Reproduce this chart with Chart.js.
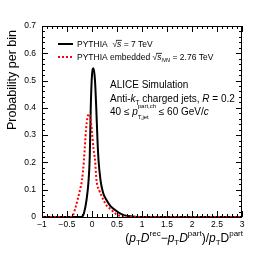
<!DOCTYPE html>
<html lang="en">
<head>
  <meta charset="UTF-8">
  <title>pT D resolution</title>
  <script src="https://cdn.jsdelivr.net/npm/chart.js"></script>
  <style>
    * { margin: 0; padding: 0; box-sizing: border-box; }
    body { background: #fff; width: 274px; height: 256px; overflow: hidden; }
    .wrap { position: relative; width: 274px; height: 256px; }
  </style>
</head>
<body>
  <div class="wrap"><canvas id="chart" width="274" height="256"></canvas></div>

  <script>
    // PYTHIA pp 7 TeV (black solid)
    const xBlack = [-1, -0.25, -0.2, -0.16, -0.11, -0.07, -0.045, -0.025, 0, 0.03, 0.06, 0.085, 0.11, 0.13, 0.17, 0.22, 0.29, 0.37, 0.46, 0.55, 0.65, 0.8, 1.0, 3];
    const yBlack = [0, 0, 0.001, 0.015, 0.062, 0.13, 0.22, 0.40, 0.52, 0.545, 0.50, 0.40, 0.28, 0.21, 0.135, 0.09, 0.062, 0.04, 0.026, 0.014, 0.006, 0.002, 0, 0];

    // PYTHIA embedded in Pb-Pb 2.76 TeV (red dotted)
    const xRed = [-1, -0.43, -0.38, -0.33, -0.29, -0.24, -0.2, -0.16, -0.12, -0.09, -0.06, -0.03, 0, 0.03, 0.06, 0.09, 0.15, 0.23, 0.3, 0.39, 0.47, 0.56, 0.7, 0.85, 3];
    const yRed = [0, 0, 0.006, 0.035, 0.062, 0.1, 0.135, 0.21, 0.32, 0.365, 0.377, 0.36, 0.31, 0.25, 0.21, 0.135, 0.095, 0.062, 0.04, 0.026, 0.012, 0.004, 0.001, 0, 0];

    const xTickValues = [-1, -0.5, 0, 0.5, 1, 1.5, 2, 2.5, 3];
    const yTickValues = [0, 0.1, 0.2, 0.3, 0.4, 0.5, 0.6, 0.7];

    const FONT = "'Liberation Sans', Arial, sans-serif";

    function fmt(v) {
      const r = Math.round(v * 100) / 100;
      return (r < 0 ? '\u2212' : '') + Math.abs(r).toString();
    }

    // draw a run of text pieces; piece: {t, i (italic), s (size), dy, sup, sub}
    function drawRich(ctx, x, y, pieces, align) {
      const font = (p) => (p.i ? 'italic ' : '') + p.s + 'px ' + FONT;
      let total = 0;
      const widths = pieces.map(p => {
        if (p.sup !== undefined) {
          ctx.font = p.s + 'px ' + FONT;
          const w = Math.max(ctx.measureText(p.sup).width, ctx.measureText(p.sub).width);
          total += w; return w;
        }
        ctx.font = font(p);
        const w = ctx.measureText(p.t).width + (p.pad || 0);
        total += w; return w;
      });
      let cx = align === 'right' ? x - total : x;
      ctx.textBaseline = 'alphabetic';
      ctx.textAlign = 'left';
      ctx.fillStyle = '#000';
      pieces.forEach((p, k) => {
        if (p.sup !== undefined) {
          ctx.font = p.s + 'px ' + FONT;
          ctx.fillText(p.sup, cx, y + p.supDy);
          ctx.fillText(p.sub, cx, y + p.subDy);
        } else {
          ctx.font = font(p);
          ctx.fillText(p.t, cx, y + (p.dy || 0));
          if (p.bar) {
            ctx.strokeStyle = '#000';
            ctx.lineWidth = 0.8;
            ctx.beginPath();
            ctx.moveTo(cx - 1, y - p.s * 0.78);
            ctx.lineTo(cx + widths[k] + 0.5, y - p.s * 0.78);
            ctx.stroke();
          }
        }
        cx += widths[k];
      });
    }

    const decorations = {
      id: 'decorations',
      afterDraw(chart) {
        const ctx = chart.ctx;
        const a = chart.chartArea;
        const xs = chart.scales.x, ys = chart.scales.y;
        ctx.save();
        ctx.strokeStyle = '#000';
        ctx.lineWidth = 1;

        // frame
        ctx.strokeRect(a.left + 0.5, a.top + 0.5, a.right - a.left - 1, a.bottom - a.top);

        // inner ticks, mirrored on all four sides
        ctx.beginPath();
        for (let k = -10; k <= 30; k++) {
          const v = k / 10;
          const px = Math.round(xs.getPixelForValue(v)) + 0.5;
          const len = (k % 5 === 0) ? 6 : 3;
          ctx.moveTo(px, a.bottom); ctx.lineTo(px, a.bottom - len);
          ctx.moveTo(px, a.top); ctx.lineTo(px, a.top + len);
        }
        for (let k = 0; k <= 35; k++) {
          const v = k / 50;
          const py = Math.round(ys.getPixelForValue(v)) + 0.5;
          const len = (k % 5 === 0) ? 6 : 3;
          ctx.moveTo(a.left, py); ctx.lineTo(a.left + len, py);
          ctx.moveTo(a.right, py); ctx.lineTo(a.right - len, py);
        }
        ctx.stroke();

        // y axis title
        ctx.save();
        ctx.translate(16, a.top + 4);
        ctx.rotate(-Math.PI / 2);
        ctx.font = '12.5px ' + FONT;
        ctx.textAlign = 'right';
        ctx.textBaseline = 'alphabetic';
        ctx.fillStyle = '#000';
        ctx.fillText('Probability per bin', 0, 0);
        ctx.restore();

        // x axis title
        const S = 12, s = 8;
        drawRich(ctx, a.right + 1, 242, [
          { t: '(', s: S }, { t: 'p', i: true, s: S }, { t: 'T', s: s, dy: 3 },
          { t: 'D', i: true, s: S }, { t: 'rec', s: s, dy: -6 },
          { t: '\u2212', s: S }, { t: 'p', i: true, s: S }, { t: 'T', s: s, dy: 3 },
          { t: 'D', i: true, s: S }, { t: 'part', s: s, dy: -6 },
          { t: ')/', s: S }, { t: 'p', i: true, s: S }, { t: 'T', s: s, dy: 3 },
          { t: 'D', s: S }, { t: 'part', s: s, dy: -6 }
        ], 'right');

        // legend
        ctx.lineWidth = 2;
        ctx.strokeStyle = '#000';
        ctx.setLineDash([]);
        ctx.beginPath(); ctx.moveTo(58, 44); ctx.lineTo(73, 44); ctx.stroke();
        ctx.strokeStyle = '#ff0000';
        ctx.setLineDash([2, 2]);
        ctx.beginPath(); ctx.moveTo(58, 57); ctx.lineTo(73, 57); ctx.stroke();
        ctx.setLineDash([]);

        const L = 8.5;
        drawRich(ctx, 77, 47, [
          { t: 'PYTHIA  \u221A', s: L }, { t: 's', i: true, s: L, bar: true }, { t: ' = 7 TeV', s: L }
        ]);
        drawRich(ctx, 77, 60, [
          { t: 'PYTHIA embedded \u221A', s: L }, { t: 's', i: true, s: L, bar: true },
          { t: 'NN', i: true, s: 6, dy: 2 }, { t: ' = 2.76 TeV', s: L }
        ]);

        // annotation block
        const T = 10;
        drawRich(ctx, 110, 88, [{ t: 'ALICE Simulation', s: T }]);
        drawRich(ctx, 110, 102, [
          { t: 'Anti-', s: T }, { t: 'k', i: true, s: T }, { t: 'T', s: 6.5, dy: 2.5 },
          { t: ' charged jets, ', s: T }, { t: 'R', i: true, s: T }, { t: ' = 0.2', s: T }
        ]);
        drawRich(ctx, 110, 115, [
          { t: '40 \u2264 ', s: T }, { t: 'p', i: true, s: T },
          { sup: 'part,ch', sub: 'T,jet', s: 6, supDy: -7, subDy: 4 },
          { t: ' \u2264 60 GeV/', s: T }, { t: 'c', i: true, s: T }
        ]);

        ctx.restore();
      }
    };

    new Chart(document.getElementById('chart'), {
      type: 'line',
      data: {
        datasets: [
          {
            label: 'PYTHIA embedded',
            data: xRed.map((x, i) => ({ x: x, y: yRed[i] })),
            borderColor: '#ff0000',
            borderWidth: 2,
            borderDash: [2, 2],
            pointRadius: 0,
            cubicInterpolationMode: 'monotone',
            fill: false
          },
          {
            label: 'PYTHIA',
            data: xBlack.map((x, i) => ({ x: x, y: yBlack[i] })),
            borderColor: '#000000',
            borderWidth: 2,
            pointRadius: 0,
            cubicInterpolationMode: 'monotone',
            fill: false
          }
        ]
      },
      options: {
        responsive: false,
        animation: false,
        events: [],
        layout: { padding: { top: 26, right: 32, left: 0, bottom: 0 } },
        plugins: { legend: { display: false }, tooltip: { enabled: false } },
        scales: {
          x: {
            type: 'linear',
            min: -1, max: 3,
            afterFit: (scale) => { scale.height = 39; },
            afterBuildTicks: (scale) => { scale.ticks = xTickValues.map(v => ({ value: v })); },
            grid: { display: false, drawTicks: false },
            border: { display: false },
            ticks: {
              padding: 3,
              maxRotation: 0,
              autoSkip: false,
              color: '#000',
              font: { family: FONT, size: 8.5 },
              callback: (v) => fmt(v)
            }
          },
          y: {
            min: 0, max: 0.7,
            afterFit: (scale) => { scale.width = 42; },
            afterBuildTicks: (scale) => { scale.ticks = yTickValues.map(v => ({ value: v })); },
            grid: { display: false, drawTicks: false },
            border: { display: false },
            ticks: {
              padding: 6,
              autoSkip: false,
              color: '#000',
              font: { family: FONT, size: 8.5 },
              callback: (v) => fmt(v)
            }
          }
        }
      },
      plugins: [decorations]
    });
  </script>
</body>
</html>
